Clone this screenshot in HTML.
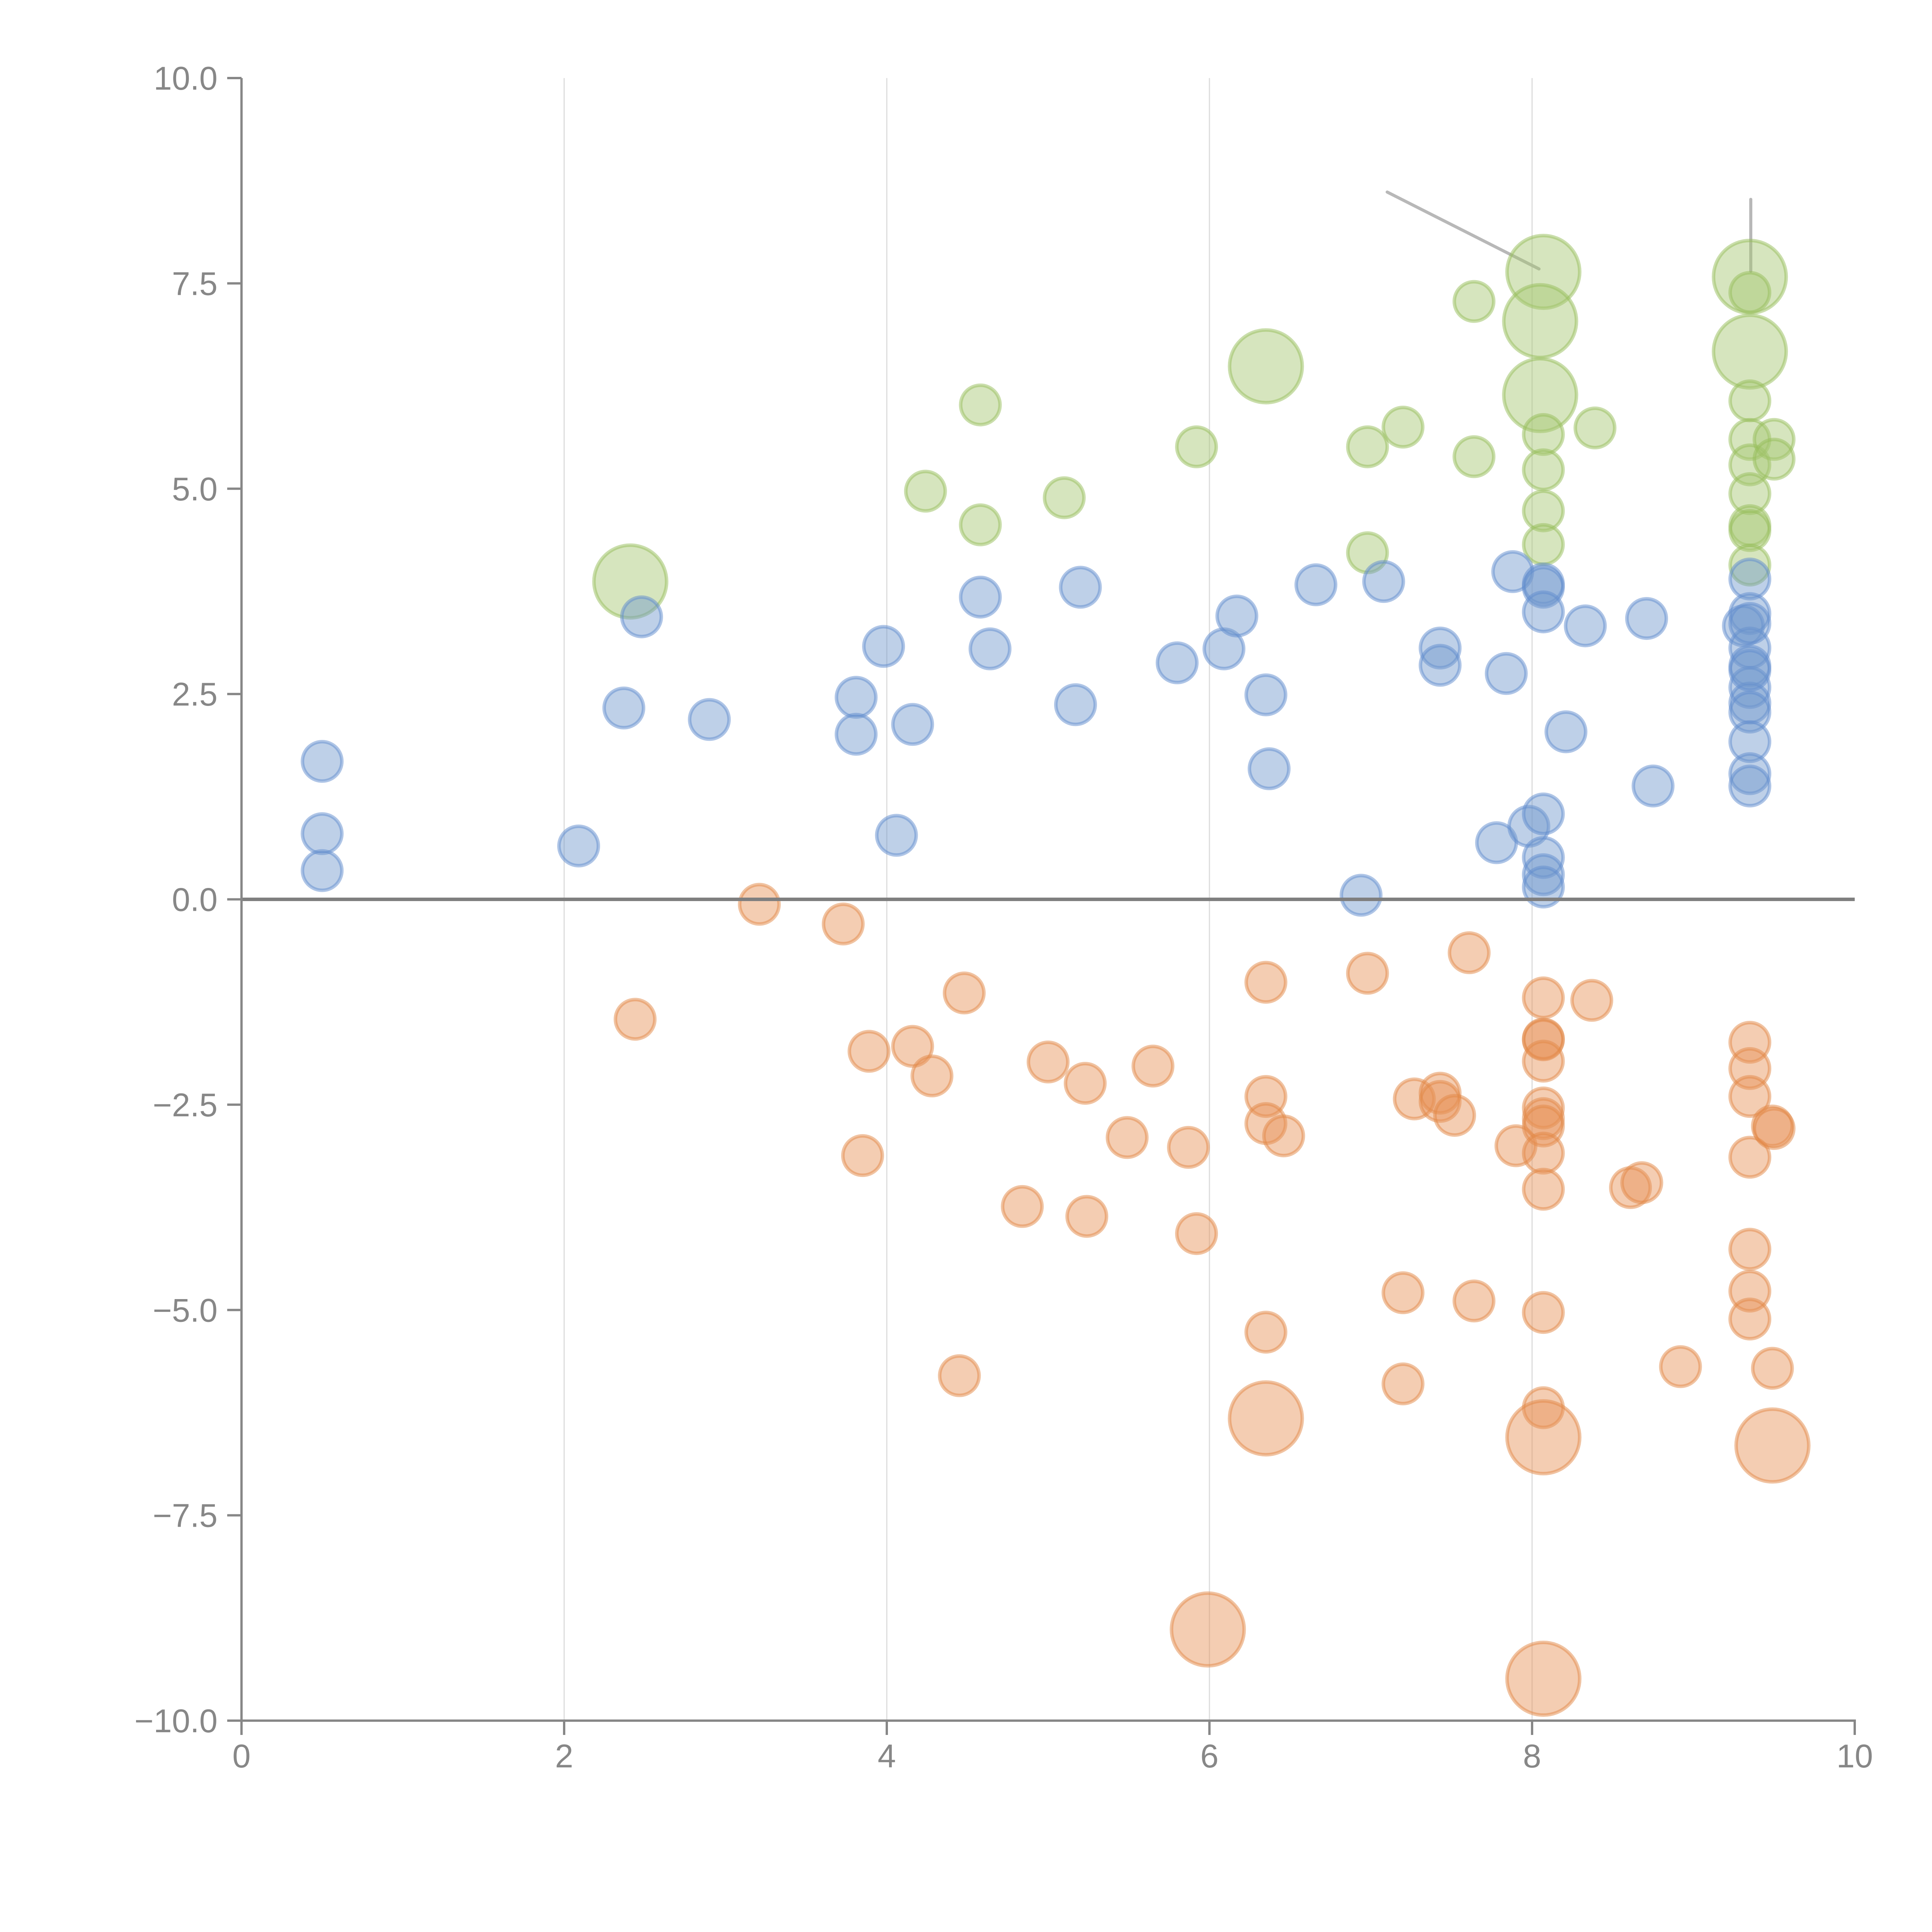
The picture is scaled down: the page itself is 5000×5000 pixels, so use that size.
<!DOCTYPE html>
<html><head><meta charset="utf-8">
<style>html,body{margin:0;padding:0;background:#fff}svg{display:block}</style>
</head><body>
<svg id="chart" width="5000" height="5000" viewBox="0 0 5000 5000" xmlns="http://www.w3.org/2000/svg" font-family="Liberation Sans, sans-serif">
<g id="grid"></g>
<g id="annot"></g>
<g id="marks"></g>
<g id="axes"></g>
</svg>
<script>
const blueX=[0.50,0.50,0.50,2.09,2.37,2.48,2.90,3.81,3.81,3.98,4.16,4.06,4.58,4.64,5.20,5.17,5.80,6.09,6.17,6.35,6.37,6.66,7.08,6.94,7.43,7.43,7.84,7.88,7.78,7.98,8.07,8.07,8.07,8.07,8.07,8.07,8.07,8.33,8.21,8.71,8.75,9.35,9.35,9.31,9.35,9.35,9.35,9.35,9.35,9.35,9.35,9.35,9.35,9.35];
const blueY=[1.68,0.80,0.35,0.65,2.33,3.44,2.19,2.46,2.01,3.08,2.13,0.78,3.68,3.05,3.80,2.37,2.88,3.05,3.45,2.49,1.59,3.83,3.87,0.05,3.06,2.85,2.75,3.99,0.69,0.89,3.84,3.80,3.50,1.04,0.51,0.30,0.15,3.33,2.04,3.42,1.38,3.90,3.48,3.33,3.06,2.84,2.58,2.39,2.28,1.92,1.53,1.38,3.36,2.79];
const orangeX=[3.21,3.73,2.44,3.89,4.16,4.28,3.85,4.48,5.00,5.23,5.65,5.49,5.87,5.92,4.84,5.24,4.45,6.35,6.35,6.35,6.46,6.35,6.35,6.98,7.61,7.27,7.43,7.43,7.52,7.20,7.64,7.20,7.90,8.07,8.07,8.07,8.07,8.07,8.07,8.07,8.07,8.07,8.07,8.07,8.07,5.99,8.37,8.61,8.68,8.92,9.35,9.35,9.35,9.35,9.35,9.35,9.35,9.49,9.50,9.49,9.49];
const orangeY=[-0.06,-0.30,-1.46,-1.85,-1.79,-2.15,-3.12,-1.14,-1.98,-2.24,-2.03,-2.90,-3.02,-4.07,-3.74,-3.86,-5.80,-1.01,-2.40,-2.73,-2.88,-5.27,-6.32,-0.90,-0.65,-2.43,-2.36,-2.46,-2.63,-4.79,-4.89,-5.90,-3.00,-1.20,-1.71,-1.70,-1.97,-2.54,-2.67,-2.76,-3.09,-3.53,-5.03,-6.19,-6.55,-8.89,-1.23,-3.51,-3.45,-5.69,-1.74,-2.06,-2.40,-3.14,-4.26,-4.77,-5.11,-2.76,-2.79,-5.71,-6.65];
const orangeS=[1,1,1,1,1,1,1,1,1,1,1,1,1,1,1,1,1,1,1,1,1,1,3.4,1,1,1,1,1,1,1,1,1,1,1,1,1,1,1,1,1,1,1,1,1,3.4,3.4,1,1,1,1,1,1,1,1,1,1,1,1,1,1,3.4];
const orangeX2=[8.07];const orangeY2=[-9.49];const orangeS2=[3.4];
const greenX=[2.41,4.24,4.58,4.58,5.10,5.92,6.35,6.98,6.98,7.20,7.64,7.64,8.07,8.05,8.05,8.07,8.07,8.07,8.07,8.39,9.35,9.35,9.35,9.35,9.35,9.35,9.35,9.35,9.35,9.35,9.50,9.50];
const greenY=[3.87,4.97,6.02,4.56,4.89,5.51,6.49,5.51,4.22,5.75,7.28,5.39,7.64,7.04,6.14,5.66,5.23,4.73,4.32,5.74,7.58,6.67,7.39,6.07,5.60,5.29,4.94,4.55,4.49,4.07,5.60,5.36];
const greenS=[3.4,1,1,1,1,1,3.4,1,1,1,1,1,3.4,3.4,3.4,1,1,1,1,1,3.4,3.4,1,1,1,1,1,1,1,1,1,1];
const xTicks=[0,2,4,6,8,10];
const yTicks=[10,7.5,5,2.5,0,-2.5,-5,-7.5,-10];
const yTickLabels=["10.0","7.5","5.0","2.5","0.0","\u22122.5","\u22125.0","\u22127.5","\u221210.0"];

const NS="http://www.w3.org/2000/svg";
const X=v=>625+417.5*v;
const Y=v=>2327.5-212.55*v;
const R0=51;
function mk(tag,attrs,parent){const e=document.createElementNS(NS,tag);for(const k in attrs)e.setAttribute(k,attrs[k]);parent.appendChild(e);return e;}
const grid=document.getElementById('grid'),axes=document.getElementById('axes'),marks=document.getElementById('marks'),annot=document.getElementById('annot');

xTicks.forEach(t=>{if(t>0&&t<10){const l=mk('line',{x1:X(t),x2:X(t),y1:Y(10),y2:Y(-10),stroke:'#dcdcdc','stroke-width':3},grid);

}});

function series(xs,ys,ss,fill,stroke,name){
  xs.forEach((x,i)=>{
    const s=ss?ss[i]:1;
    const c=mk('circle',{cx:X(x),cy:Y(ys[i]),r:R0*Math.sqrt(s),fill:fill,'fill-opacity':0.45,stroke:stroke,'stroke-opacity':0.5,'stroke-width':9},marks);
    
    
  });
}
series(greenX,greenY,greenS,'rgb(165,198,110)','rgb(150,190,90)','green-bubble');
series(blueX,blueY,null,'rgb(110,150,205)','rgb(95,140,205)','blue-bubble');
series(orangeX,orangeY,orangeS,'rgb(230,145,85)','rgb(225,135,70)','orange-bubble');
series(orangeX2,orangeY2,orangeS2,'rgb(230,145,85)','rgb(225,135,70)','orange-bubble');

const a1=mk('line',{x1:3590,y1:497,x2:3983,y2:696,stroke:'#b8b8b8','stroke-width':8,'stroke-linecap':'round'},annot);


const a2=mk('line',{x1:4531,y1:516,x2:4531,y2:702,stroke:'#b8b8b8','stroke-width':8,'stroke-linecap':'round'},annot);



const zl=mk('line',{x1:X(0),x2:X(10),y1:Y(0),y2:Y(0),stroke:'#7f7f7f','stroke-width':9},axes);


const ya=mk('line',{x1:X(0),x2:X(0),y1:Y(10),y2:Y(-10)+3,stroke:'#878787','stroke-width':6},axes);


const xa=mk('line',{x1:X(0)-3,x2:X(10)+3,y1:Y(-10),y2:Y(-10),stroke:'#878787','stroke-width':6},axes);



xTicks.forEach(t=>{
  const tk=mk('line',{x1:X(t),x2:X(t),y1:Y(-10),y2:Y(-10)+37,stroke:'#878787','stroke-width':6},axes);
  
  
  const tx=mk('text',{x:X(t),y:4574,'text-anchor':'middle','font-size':85,fill:'#878787'},axes);
  tx.textContent=String(t);
  
  
});
yTicks.forEach((t,i)=>{
  const tk=mk('line',{x1:X(0)-37,x2:X(0),y1:Y(t),y2:Y(t),stroke:'#878787','stroke-width':6},axes);
  
  
  const tx=mk('text',{x:563,y:Y(t)+30,'text-anchor':'end','font-size':85,fill:'#878787'},axes);
  tx.textContent=yTickLabels[i];
  
  
});
</script>
</body></html>
